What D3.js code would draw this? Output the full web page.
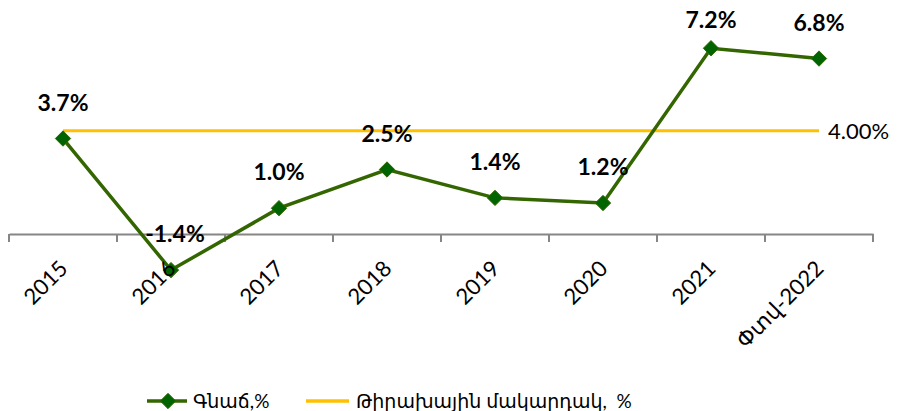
<!DOCTYPE html>
<html lang="hy">
<head>
<meta charset="UTF-8">
<title>Գնաճ</title>
<style>
    body { margin: 0; background: #fff; }
    svg text { font-family: Lato, "Noto Sans", "DejaVu Sans", sans-serif; white-space: pre; }
</style>
</head>
<body>
<div id="chart"></div>
<script src="https://d3js.org/d3.v7.min.js"></script>
<script>
    // data
    var years = ["2015", "2016", "2017", "2018", "2019", "2020", "2021", "Փտվ-2022"];
    var inflation = [3.7, -1.4, 1.0, 2.5, 1.4, 1.2, 7.2, 6.8];
    var target = 4.0;
    var seriesNames = ["Գնաճ,%", "Թիրախային մակարդակ,  %"];

    var width = 899,
        height = 411;

    var green = "#336600",
        marker = "#006400",
        yellow = "#FFC000";

    var svg = d3.select("#chart").append("svg")
        .attr("width", width)
        .attr("height", height);

    var x = d3.scaleBand()
        .domain(years)
        .range([9, 873]);

    var y = d3.scaleLinear()
        .domain([-2, 8])
        .range([234 + 2 * 25.8, 234 - 8 * 25.8]);

    function cx(d) { return x(d) + x.bandwidth() / 2; }

    // category axis at zero
    var axis = svg.append("g")
        .attr("transform", "translate(0," + y(0) + ")")
        .call(d3.axisBottom(x).tickSize(0).tickFormat(""));
    axis.select(".domain").attr("stroke", "#868686").attr("stroke-width", 2);

    svg.append("g").selectAll("line")
        .data(d3.range(years.length + 1))
        .enter().append("line")
        .attr("x1", function (i) { return 9 + i * x.bandwidth(); })
        .attr("x2", function (i) { return 9 + i * x.bandwidth(); })
        .attr("y1", y(0))
        .attr("y2", y(0) + 8)
        .attr("stroke", "#868686")
        .attr("stroke-width", 2);

    // target line
    svg.append("line")
        .attr("x1", cx(years[0]))
        .attr("x2", cx(years[years.length - 1]))
        .attr("y1", y(target))
        .attr("y2", y(target))
        .attr("stroke", yellow)
        .attr("stroke-width", 3);

    svg.append("text")
        .attr("x", cx(years[years.length - 1]) + 9)
        .attr("y", y(target))
        .attr("dy", "0.35em")
        .attr("font-size", "22px")
        .attr("fill", "#000")
        .text(target.toFixed(2) + "%");

    // inflation line
    var line = d3.line()
        .x(function (d, i) { return cx(years[i]); })
        .y(function (d) { return y(d); });

    svg.append("path")
        .datum(inflation)
        .attr("fill", "none")
        .attr("stroke", green)
        .attr("stroke-width", 3.5)
        .attr("d", line);

    var diamond = d3.symbol().type(d3.symbolDiamond2).size(150);

    svg.append("g").selectAll("path")
        .data(inflation)
        .enter().append("path")
        .attr("d", diamond)
        .attr("transform", function (d, i) { return "translate(" + cx(years[i]) + "," + y(d) + ")"; })
        .attr("fill", marker)
        .attr("stroke", green)
        .attr("stroke-width", 1);

    // category labels sit above the markers, as in the original
    svg.append("g").selectAll("text")
        .data(years)
        .enter().append("text")
        .attr("transform", function (d) {
            return "translate(" + (cx(d) + 6) + "," + (y(0) + 36) + ") rotate(-45)";
        })
        .attr("text-anchor", "end")
        .attr("font-size", "22px")
        .attr("fill", "#000")
        .text(function (d) { return d; });

    svg.append("g").selectAll("text")
        .data(inflation)
        .enter().append("text")
        .attr("x", function (d, i) { return cx(years[i]) + (i === 1 ? 4 : 0); })
        .attr("y", function (d) { return Math.max(20, y(d) - 36); })
        .attr("dy", "0.35em")
        .attr("text-anchor", "middle")
        .attr("font-size", "23px")
        .attr("font-weight", "bold")
        .attr("fill", "#000")
        .text(function (d) { return d.toFixed(1) + "%"; });

    // legend
    var legend = svg.append("g").attr("transform", "translate(0,401)");

    legend.append("line")
        .attr("x1", 147).attr("x2", 187)
        .attr("stroke", green).attr("stroke-width", 3.5);
    legend.append("path")
        .attr("d", diamond)
        .attr("transform", "translate(168,0)")
        .attr("fill", marker)
        .attr("stroke", green);
    legend.append("text")
        .attr("x", 193).attr("dy", "0.35em")
        .attr("font-size", "19px")
        .text(seriesNames[0]);

    legend.append("line")
        .attr("x1", 306).attr("x2", 349)
        .attr("stroke", yellow).attr("stroke-width", 3.5);
    legend.append("text")
        .attr("x", 356).attr("dy", "0.35em")
        .attr("font-size", "19px")
        .text(seriesNames[1]);
</script>
</body>
</html>
